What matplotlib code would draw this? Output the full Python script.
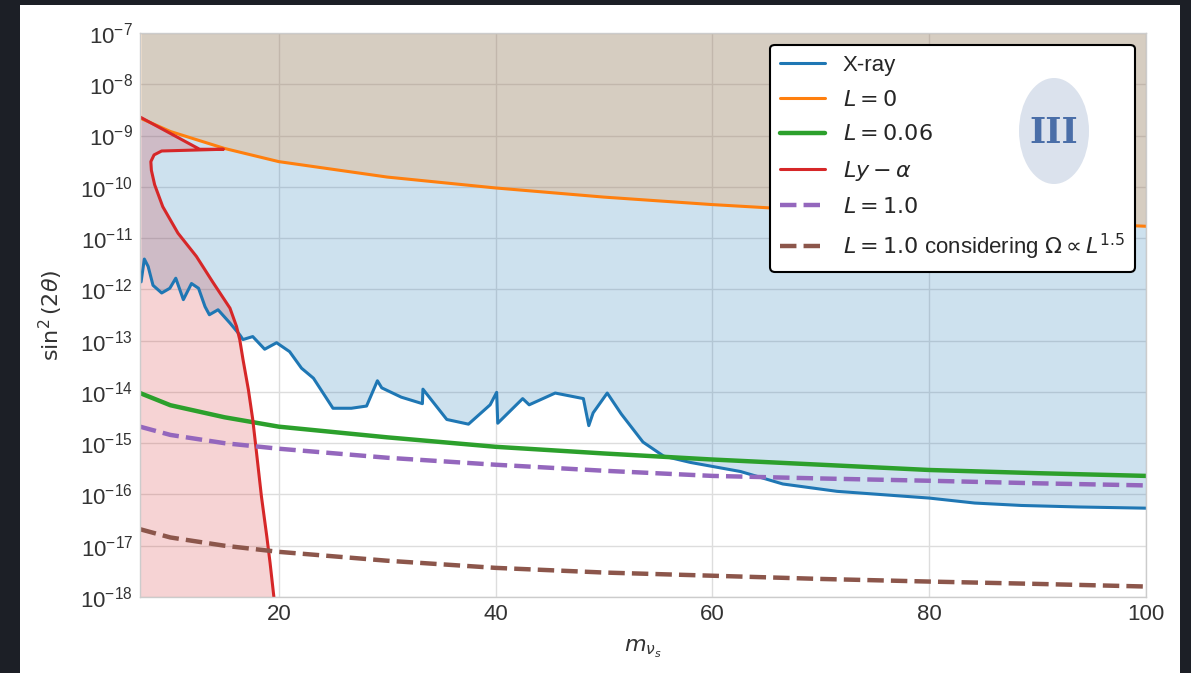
import numpy as np
import matplotlib
matplotlib.use('Agg')
import matplotlib.pyplot as plt
from matplotlib.patches import Ellipse, Rectangle

# sterile neutrino mass grid for the smooth limit curves
m_lines = [7.2, 10, 15, 20, 30, 40, 50, 60, 70, 80, 90, 100]
L0 = [2.2e-9, 1.2e-9, 5.6e-10, 3.1e-10, 1.55e-10, 9.5e-11, 6.3e-11, 4.5e-11, 3.4e-11, 2.6e-11, 2.1e-11, 1.7e-11]
L006 = [9.5e-15, 5.5e-15, 3.2e-15, 2.1e-15, 1.3e-15, 8.5e-16, 6.3e-16, 4.8e-16, 3.8e-16, 3.0e-16, 2.6e-16, 2.3e-16]
L1 = [2.1e-15, 1.45e-15, 1.0e-15, 7.8e-16, 5.2e-16, 3.8e-16, 2.9e-16, 2.3e-16, 2.05e-16, 1.85e-16, 1.65e-16, 1.5e-16]
L1_omega = [2.1e-17, 1.45e-17, 1.0e-17, 7.6e-18, 5.1e-18, 3.7e-18, 3.0e-18, 2.6e-18, 2.25e-18, 2.0e-18, 1.8e-18, 1.6e-18]

# X-ray bound
m_xray = [7.3, 7.6, 7.95, 8.4, 9.2, 9.95, 10.5, 11.2, 11.95, 12.6, 13.2, 13.6, 14.4, 15.5, 16.4, 16.7,
          17.6, 18.7, 19.8, 21.0, 22.1, 23.2, 25.0, 26.7, 28.1, 29.1, 29.5, 31.3, 33.25, 33.3, 35.5,
          37.5, 39.5, 40.1, 40.2, 42.5, 43.1, 45.5, 48.1, 48.6, 49.0, 50.3, 51.6, 53.6, 55.5, 58.0,
          62.6, 66.5, 71.5, 80.0, 84.2, 88.5, 93.8, 100]
s_xray = [1.4e-12, 3.9e-12, 2.8e-12, 1.2e-12, 8.5e-13, 1.05e-12, 1.65e-12, 6.3e-13, 1.3e-12, 1.05e-12,
          4.6e-13, 3.2e-13, 4.0e-13, 2.2e-13, 1.3e-13, 1.05e-13, 1.2e-13, 6.8e-14, 9.1e-14, 6.1e-14,
          2.9e-14, 1.85e-14, 4.8e-15, 4.8e-15, 5.3e-15, 1.65e-14, 1.2e-14, 7.9e-15, 5.9e-15, 1.13e-14,
          2.9e-15, 2.35e-15, 5.6e-15, 9.8e-15, 2.45e-15, 7.4e-15, 5.6e-15, 9.5e-15, 7.4e-15, 2.2e-15,
          3.9e-15, 9.5e-15, 3.7e-15, 1.05e-15, 5.6e-16, 4.2e-16, 2.8e-16, 1.6e-16, 1.15e-16, 8.5e-17,
          6.8e-17, 6.1e-17, 5.7e-17, 5.4e-17]

# Lyman-alpha contour
m_lya = [7.2, 12.7, 14.9, 9.2, 8.5, 8.2, 8.25, 8.55, 9.3, 10.7, 12.4, 13.9, 15.5, 16.1, 16.4, 16.7,
         17.2, 17.6, 17.95, 18.4, 18.9, 19.2, 19.55]
s_lya = [2.3e-9, 5.4e-10, 5.4e-10, 5.0e-10, 4.2e-10, 3.1e-10, 2.1e-10, 1.1e-10, 4.1e-11, 1.25e-11,
         4.4e-12, 1.4e-12, 4.3e-13, 1.9e-13, 1.05e-13, 4.3e-14, 1.1e-14, 2.9e-15, 6.5e-16, 9.2e-17,
         1.5e-17, 4.6e-18, 1.0e-18]

xmin, xmax = 7.2, 100
ymin, ymax = 1e-18, 1e-7

plt.style.use('seaborn-v0_8-whitegrid')
plt.rcParams['font.family'] = ['Liberation Sans', 'DejaVu Sans']

fig = plt.figure(figsize=(11.91, 6.73), dpi=100, facecolor='#1c1f26')
fig.add_artist(Rectangle((20 / 1191, 0), 1160 / 1191, 668 / 673, transform=fig.transFigure,
                         facecolor='white', edgecolor='none', zorder=-10))
ax = fig.add_axes([140 / 1191, 76 / 673, 1006 / 1191, 564 / 673])

ax.plot(m_xray, s_xray, color='tab:blue', lw=2.2, label='X-ray')
ax.fill_between(m_xray, s_xray, ymax, color='tab:blue', alpha=0.22, lw=0)
ax.plot(m_lines, L0, color='tab:orange', lw=2.2, label=r'$L=0$')
ax.fill_between(m_lines, L0, ymax, color='tab:orange', alpha=0.2, lw=0)
ax.plot(m_lines, L006, color='tab:green', lw=3.2, label=r'$L=0.06$')
ax.plot(m_lya, s_lya, color='tab:red', lw=2.2, label=r'$Ly-\alpha$')
ax.fill(m_lya + [m_lya[-1], xmin], s_lya + [ymin, ymin], color='tab:red', alpha=0.2, lw=0)
ax.plot(m_lines, L1, color='tab:purple', lw=3.2, ls='--', label=r'$L=1.0$')
ax.plot(m_lines, L1_omega, color='tab:brown', lw=3.2, ls='--',
        label=r'$L=1.0$ considering $\Omega \propto L^{1.5}$')

ax.set_yscale('log')
ax.set_xlim(xmin, xmax)
ax.set_ylim(ymin, ymax)
ax.set_yticks([10.0 ** k for k in range(-18, -6)])
ax.minorticks_off()
ax.tick_params(labelsize=16, colors='#333333', pad=5)
ax.set_xlabel(r'$m_{\nu_s}$', fontsize=16, color='#333333', labelpad=9)
ax.set_ylabel(r'$\sin^2(2\theta)$', fontsize=16, color='#333333', labelpad=11)
ax.grid(color='#dddddd', lw=1)
for s in ax.spines.values():
    s.set_color('#cccccc')

leg = ax.legend(loc='upper right', fontsize=16, frameon=True, framealpha=1, edgecolor='black',
                fancybox=True, borderpad=0.45, labelspacing=0.62, handlelength=2.0,
                borderaxespad=0, bbox_to_anchor=(0.989, 0.979))
leg.get_frame().set_linewidth(1.5)

# region badge
fig.add_artist(Ellipse((1054 / 1191, 1 - 131 / 673), 70 / 1191, 106 / 673, transform=fig.transFigure,
                       facecolor='#dbe2ed', edgecolor='none', zorder=10))
fig.text(1054 / 1191, 1 - 133 / 673, 'III', fontsize=25, fontweight='bold', family='DejaVu Serif',
         color='#4a6ea8', ha='center', va='center', zorder=11)

fig.savefig('out.png', dpi=100, facecolor=fig.get_facecolor())
